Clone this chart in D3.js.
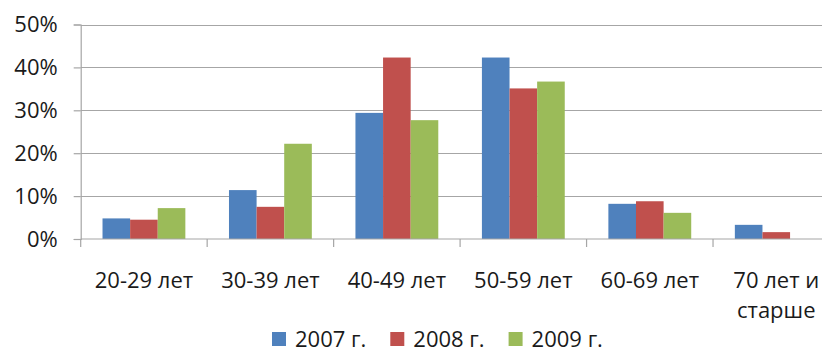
<!DOCTYPE html>
<html>
<head>
<meta charset="utf-8">
<script src="https://cdn.jsdelivr.net/npm/d3@7"></script>
<style>
  html, body { margin: 0; padding: 0; background: #fff; overflow: hidden; }
  svg { display: block; }
  text { font-family: "Open Sans", "Liberation Sans", sans-serif; fill: #1a1a1a; }
</style>
</head>
<body>
<svg id="chart" width="822" height="349"></svg>
<script>
// Age groups and the share of each group per year
const categories = ["20-29 лет", "30-39 лет", "40-49 лет", "50-59 лет", "60-69 лет", "70 лет и старше"];
const seriesNames = ["2007 г.", "2008 г.", "2009 г."];
const values2007 = [0.048, 0.114, 0.294, 0.423, 0.082, 0.033];
const values2008 = [0.045, 0.075, 0.423, 0.351, 0.088, 0.016];
const values2009 = [0.072, 0.222, 0.277, 0.367, 0.061, 0];
const yTicks = [0, 0.1, 0.2, 0.3, 0.4, 0.5];
const colors = ["#4F81BD", "#C0504D", "#9BBB59"];

const seriesValues = [values2007, values2008, values2009];

const svg = d3.select("#chart");

const plot = { left: 80.7, right: 839.5, top: 24.5, bottom: 239 };

const x = d3.scaleBand()
  .domain(categories)
  .range([plot.left, plot.right])
  .paddingInner(0)
  .paddingOuter(0);

const xInner = d3.scaleBand()
  .domain(seriesNames)
  .range([0, x.bandwidth()])
  .paddingInner(0)
  .paddingOuter(0.79);

const y = d3.scaleLinear()
  .domain([0, 0.5])
  .range([plot.bottom, plot.top]);

// Horizontal gridlines
svg.append("g")
  .selectAll("line")
  .data(yTicks.filter(d => d > 0))
  .join("line")
  .attr("x1", plot.left)
  .attr("x2", plot.right)
  .attr("y1", d => Math.round(y(d)) + 0.5)
  .attr("y2", d => Math.round(y(d)) + 0.5)
  .attr("stroke", "#a6a6a6")
  .attr("stroke-width", 1.2);

// Bars
const rows = categories.map((c, i) => ({
  category: c,
  items: seriesNames.map((s, j) => ({ series: s, value: seriesValues[j][i], color: colors[j] }))
}));

svg.append("g")
  .selectAll("g")
  .data(rows)
  .join("g")
  .attr("transform", d => `translate(${x(d.category)},0)`)
  .selectAll("rect")
  .data(d => d.items.filter(v => v.value > 0))
  .join("rect")
  .attr("x", d => xInner(d.series))
  .attr("width", xInner.bandwidth())
  .attr("y", d => y(d.value))
  .attr("height", d => y(0) - y(d.value))
  .attr("fill", d => d.color);

// Y axis
const yAxis = d3.axisLeft(y)
  .tickValues(yTicks)
  .tickFormat(d3.format(".0%"))
  .tickSize(7)
  .tickPadding(16);

const gy = svg.append("g")
  .attr("transform", `translate(${plot.left},0)`)
  .call(yAxis);
gy.select(".domain").attr("stroke", "#a6a6a6").attr("stroke-width", 1.2);
gy.selectAll(".tick line").attr("stroke", "#a6a6a6").attr("stroke-width", 1.2);
gy.selectAll(".tick text")
  .style("font-size", "22px")
  .attr("fill", "#1a1a1a")
  .style("font-family", "'Open Sans', 'Liberation Sans', sans-serif");

// X axis baseline and category boundary ticks
const gx = svg.append("g");
gx.append("line")
  .attr("x1", plot.left)
  .attr("x2", plot.right)
  .attr("y1", y(0))
  .attr("y2", y(0))
  .attr("stroke", "#a6a6a6")
  .attr("stroke-width", 1.2);

const boundaries = categories.map(c => x(c)).concat([x(categories[categories.length - 1]) + x.bandwidth()]);
gx.selectAll("line.tick")
  .data(boundaries)
  .join("line")
  .attr("class", "tick")
  .attr("x1", d => d)
  .attr("x2", d => d)
  .attr("y1", y(0))
  .attr("y2", y(0) + 8)
  .attr("stroke", "#a6a6a6")
  .attr("stroke-width", 1.2);

// Category labels, wrapped to the category width
const labels = gx.selectAll("text.cat")
  .data(categories)
  .join("text")
  .attr("class", "cat")
  .attr("x", d => x(d) + x.bandwidth() / 2)
  .attr("y", 288)
  .attr("text-anchor", "middle")
  .style("font-size", "22px");

labels.each(function (d) {
  const el = d3.select(this);
  const words = d.split(" ");
  const maxW = x.bandwidth() - 6;
  let line = [];
  let tspan = el.append("tspan").attr("x", x(d) + x.bandwidth() / 2).attr("dy", 0);
  words.forEach(w => {
    line.push(w);
    tspan.text(line.join(" "));
    if (tspan.node().getComputedTextLength() > maxW && line.length > 1) {
      line.pop();
      tspan.text(line.join(" "));
      line = [w];
      tspan = el.append("tspan")
        .attr("x", x(d) + x.bandwidth() / 2)
        .attr("dy", 30)
        .text(w);
    }
  });
});

// Legend
const legend = svg.append("g").attr("transform", "translate(272,0)");
let offset = 0;
seriesNames.forEach((s, i) => {
  const item = legend.append("g").attr("transform", `translate(${offset},0)`);
  item.append("rect")
    .attr("x", 0)
    .attr("y", 332)
    .attr("width", 14)
    .attr("height", 14)
    .attr("fill", colors[i]);
  const t = item.append("text")
    .attr("x", 23)
    .attr("y", 347)
    .style("font-size", "22px")
    .text(s);
  offset += 23 + t.node().getComputedTextLength() + 24;
});
</script>
</body>
</html>
